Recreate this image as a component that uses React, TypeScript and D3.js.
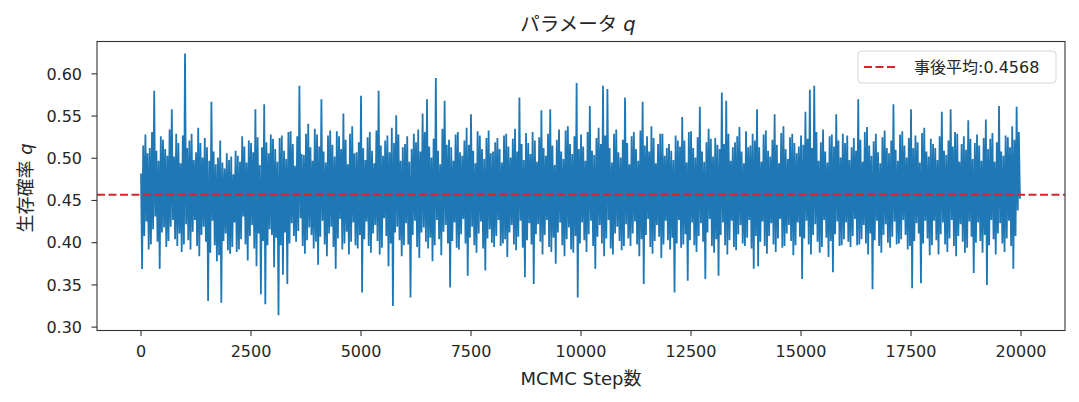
import React, { useMemo } from 'react';
import * as d3 from 'd3';

// thinned MCMC trace of q, one value every `thin` steps
const thin = 25;
const trace: number[] = [
  // 0 - 975
  0.482, 0.369, 0.515, 0.408, 0.528, 0.425, 0.506, 0.392, 0.512, 0.398, 0.531, 0.416, 0.580, 0.431, 0.509, 0.401, 0.497, 0.369, 0.526, 0.412,
  0.522, 0.418, 0.511, 0.395, 0.503, 0.402, 0.534, 0.419, 0.558, 0.427, 0.502, 0.404, 0.529, 0.396, 0.518, 0.411, 0.494, 0.389, 0.527, 0.398,
  // 1000 - 1975
  0.624, 0.422, 0.512, 0.403, 0.521, 0.392, 0.529, 0.413, 0.498, 0.427, 0.507, 0.396, 0.536, 0.384, 0.518, 0.409, 0.501, 0.419, 0.524, 0.401,
  0.513, 0.331, 0.497, 0.388, 0.567, 0.426, 0.508, 0.397, 0.493, 0.378, 0.501, 0.385, 0.521, 0.329, 0.495, 0.402, 0.488, 0.411, 0.506, 0.391,
  // 2000 - 2975
  0.498, 0.387, 0.502, 0.395, 0.481, 0.424, 0.509, 0.389, 0.503, 0.392, 0.496, 0.404, 0.526, 0.431, 0.514, 0.398, 0.495, 0.379, 0.521, 0.408,
  0.518, 0.421, 0.507, 0.393, 0.558, 0.372, 0.525, 0.411, 0.492, 0.339, 0.513, 0.402, 0.564, 0.327, 0.519, 0.397, 0.506, 0.416, 0.528, 0.409,
  // 3000 - 3975
  0.523, 0.371, 0.511, 0.406, 0.496, 0.314, 0.524, 0.397, 0.527, 0.362, 0.509, 0.412, 0.499, 0.351, 0.531, 0.399, 0.532, 0.423, 0.517, 0.408,
  0.491, 0.401, 0.526, 0.414, 0.586, 0.429, 0.505, 0.396, 0.504, 0.387, 0.529, 0.403, 0.541, 0.418, 0.513, 0.409, 0.497, 0.393, 0.535, 0.401,
  // 4000 - 4975
  0.528, 0.374, 0.514, 0.407, 0.570, 0.426, 0.508, 0.398, 0.495, 0.384, 0.527, 0.411, 0.533, 0.419, 0.516, 0.395, 0.502, 0.369, 0.532, 0.405,
  0.526, 0.428, 0.511, 0.392, 0.553, 0.399, 0.522, 0.413, 0.493, 0.386, 0.529, 0.401, 0.538, 0.424, 0.506, 0.397, 0.507, 0.393, 0.519, 0.409,
  // 5000 - 5975
  0.574, 0.341, 0.512, 0.404, 0.498, 0.425, 0.525, 0.396, 0.531, 0.388, 0.509, 0.411, 0.494, 0.421, 0.533, 0.402, 0.580, 0.386, 0.515, 0.394,
  0.503, 0.429, 0.521, 0.408, 0.527, 0.372, 0.507, 0.399, 0.536, 0.325, 0.518, 0.412, 0.551, 0.419, 0.528, 0.403, 0.497, 0.384, 0.513, 0.397,
  // 6000 - 6975
  0.517, 0.423, 0.526, 0.398, 0.496, 0.335, 0.511, 0.409, 0.529, 0.426, 0.519, 0.395, 0.534, 0.382, 0.508, 0.412, 0.553, 0.418, 0.531, 0.401,
  0.570, 0.393, 0.514, 0.406, 0.501, 0.378, 0.523, 0.397, 0.595, 0.427, 0.509, 0.404, 0.493, 0.385, 0.535, 0.413, 0.568, 0.421, 0.516, 0.399,
  // 7000 - 7975
  0.522, 0.347, 0.513, 0.402, 0.497, 0.424, 0.528, 0.394, 0.531, 0.392, 0.507, 0.410, 0.503, 0.428, 0.521, 0.399, 0.536, 0.361, 0.516, 0.406,
  0.552, 0.419, 0.509, 0.397, 0.494, 0.388, 0.532, 0.411, 0.527, 0.425, 0.511, 0.393, 0.499, 0.367, 0.524, 0.405, 0.533, 0.416, 0.506, 0.400,
  // 8000 - 8975
  0.508, 0.395, 0.519, 0.408, 0.524, 0.427, 0.511, 0.396, 0.495, 0.399, 0.527, 0.404, 0.529, 0.383, 0.514, 0.412, 0.501, 0.421, 0.523, 0.398,
  0.535, 0.391, 0.508, 0.407, 0.572, 0.426, 0.517, 0.394, 0.498, 0.359, 0.530, 0.403, 0.518, 0.423, 0.505, 0.398, 0.531, 0.351, 0.521, 0.410,
  // 9000 - 9975
  0.496, 0.422, 0.525, 0.401, 0.557, 0.386, 0.512, 0.409, 0.503, 0.427, 0.529, 0.395, 0.558, 0.389, 0.515, 0.406, 0.492, 0.375, 0.522, 0.412,
  0.534, 0.424, 0.508, 0.397, 0.499, 0.384, 0.533, 0.404, 0.538, 0.418, 0.517, 0.392, 0.505, 0.388, 0.526, 0.408, 0.589, 0.335, 0.511, 0.399,
  // 10000 - 10975
  0.528, 0.424, 0.514, 0.403, 0.497, 0.389, 0.531, 0.410, 0.562, 0.426, 0.509, 0.396, 0.504, 0.369, 0.524, 0.407, 0.536, 0.421, 0.517, 0.399,
  0.586, 0.384, 0.527, 0.405, 0.582, 0.427, 0.512, 0.393, 0.495, 0.386, 0.529, 0.411, 0.534, 0.419, 0.507, 0.402, 0.501, 0.391, 0.522, 0.396,
  // 11000 - 11975
  0.572, 0.422, 0.518, 0.405, 0.493, 0.396, 0.526, 0.411, 0.531, 0.425, 0.511, 0.398, 0.497, 0.384, 0.533, 0.404, 0.567, 0.351, 0.515, 0.409,
  0.526, 0.428, 0.508, 0.395, 0.538, 0.387, 0.524, 0.402, 0.494, 0.421, 0.517, 0.407, 0.529, 0.382, 0.529, 0.398, 0.503, 0.426, 0.512, 0.403,
  // 12000 - 12975
  0.517, 0.392, 0.509, 0.406, 0.498, 0.341, 0.527, 0.399, 0.521, 0.427, 0.514, 0.394, 0.549, 0.398, 0.521, 0.410, 0.495, 0.355, 0.531, 0.403,
  0.532, 0.424, 0.512, 0.397, 0.501, 0.389, 0.525, 0.408, 0.561, 0.423, 0.508, 0.401, 0.496, 0.357, 0.519, 0.412, 0.535, 0.428, 0.523, 0.396,
  // 13000 - 13975
  0.502, 0.388, 0.524, 0.404, 0.516, 0.361, 0.511, 0.409, 0.578, 0.424, 0.517, 0.397, 0.568, 0.386, 0.529, 0.403, 0.497, 0.426, 0.513, 0.395,
  0.519, 0.391, 0.526, 0.410, 0.537, 0.421, 0.508, 0.399, 0.494, 0.396, 0.532, 0.406, 0.513, 0.427, 0.515, 0.393, 0.529, 0.369, 0.521, 0.408,
  // 14000 - 14975
  0.558, 0.372, 0.513, 0.401, 0.496, 0.425, 0.528, 0.396, 0.533, 0.387, 0.509, 0.408, 0.502, 0.423, 0.522, 0.398, 0.552, 0.389, 0.516, 0.405,
  0.494, 0.428, 0.530, 0.394, 0.538, 0.396, 0.511, 0.411, 0.499, 0.421, 0.525, 0.402, 0.529, 0.385, 0.518, 0.397, 0.506, 0.424, 0.514, 0.407,
  // 15000 - 15975
  0.527, 0.357, 0.516, 0.405, 0.555, 0.426, 0.523, 0.398, 0.581, 0.386, 0.512, 0.409, 0.586, 0.422, 0.531, 0.401, 0.497, 0.388, 0.519, 0.395,
  0.534, 0.427, 0.508, 0.406, 0.495, 0.383, 0.526, 0.402, 0.528, 0.365, 0.514, 0.410, 0.552, 0.425, 0.521, 0.396, 0.501, 0.397, 0.529, 0.404,
  // 16000 - 16975
  0.518, 0.424, 0.527, 0.401, 0.498, 0.395, 0.513, 0.408, 0.524, 0.428, 0.509, 0.397, 0.570, 0.398, 0.522, 0.404, 0.496, 0.421, 0.531, 0.399,
  0.537, 0.386, 0.515, 0.411, 0.503, 0.345, 0.520, 0.403, 0.529, 0.426, 0.507, 0.396, 0.494, 0.388, 0.525, 0.409, 0.533, 0.422, 0.512, 0.400,
  // 17000 - 17975
  0.506, 0.394, 0.521, 0.407, 0.564, 0.425, 0.510, 0.398, 0.497, 0.399, 0.528, 0.404, 0.532, 0.427, 0.515, 0.409, 0.501, 0.392, 0.524, 0.396,
  0.558, 0.346, 0.512, 0.402, 0.527, 0.423, 0.519, 0.411, 0.495, 0.352, 0.530, 0.399, 0.536, 0.426, 0.508, 0.405, 0.502, 0.385, 0.523, 0.397,
  // 18000 - 18975
  0.517, 0.426, 0.512, 0.403, 0.498, 0.386, 0.526, 0.410, 0.555, 0.424, 0.509, 0.398, 0.504, 0.389, 0.521, 0.405, 0.558, 0.427, 0.514, 0.396,
  0.531, 0.384, 0.529, 0.408, 0.496, 0.422, 0.517, 0.401, 0.526, 0.388, 0.510, 0.394, 0.545, 0.425, 0.523, 0.407, 0.499, 0.364, 0.518, 0.400,
  // 19000 - 19975
  0.528, 0.424, 0.515, 0.402, 0.497, 0.388, 0.524, 0.409, 0.546, 0.350, 0.511, 0.397, 0.523, 0.427, 0.530, 0.404, 0.496, 0.386, 0.519, 0.411,
  0.562, 0.423, 0.508, 0.399, 0.503, 0.389, 0.527, 0.405, 0.525, 0.426, 0.513, 0.396, 0.538, 0.369, 0.522, 0.408, 0.561, 0.438, 0.531, 0.452,
];

const posteriorMean = 0.4568;
const xTicks = [0, 2500, 5000, 7500, 10000, 12500, 15000, 17500, 20000];
const yTicks = [0.3, 0.35, 0.4, 0.45, 0.5, 0.55, 0.6];

const W = 1079;
const H = 402;
const plot = { left: 97, right: 1065, top: 41.5, bottom: 330.5 };
const FONT = "'DejaVu Sans', 'Noto Sans CJK JP', sans-serif";
const MATH = "'DejaVu Sans', sans-serif";
const INK = '#262626';

const App: React.FC = () => {
  const { x, y, path } = useMemo(() => {
    const x = d3.scaleLinear().domain([-1000, 20999]).range([plot.left, plot.right]);
    const y = d3.scaleLinear().domain([0.296, 0.6383]).range([plot.bottom, plot.top]);
    const line = d3
      .line<number>()
      .x((_, i) => x(i * thin))
      .y((d) => y(d));
    return { x, y, path: line(trace) || '' };
  }, []);

  const meanY = y(posteriorMean);

  return (
    <svg
      width={W}
      height={H}
      viewBox={`0 0 ${W} ${H}`}
      style={{ position: 'absolute', left: 0, top: 0, background: '#fff' }}
      fontFamily={FONT}
    >
      <defs>
        <clipPath id="plotClip">
          <rect x={plot.left} y={plot.top} width={plot.right - plot.left} height={plot.bottom - plot.top} />
        </clipPath>
      </defs>

      {/* trace */}
      <g clipPath="url(#plotClip)">
        <path d={path} fill="none" stroke="#1f77b4" strokeWidth={1.8} strokeLinejoin="bevel" />
        <line
          x1={plot.left}
          x2={plot.right}
          y1={meanY}
          y2={meanY}
          stroke="#d62728"
          strokeWidth={2}
          strokeDasharray="8,3.5"
        />
      </g>

      {/* frame */}
      <rect
        x={plot.left}
        y={plot.top}
        width={plot.right - plot.left}
        height={plot.bottom - plot.top}
        fill="none"
        stroke="#333"
        strokeWidth={1.1}
      />

      {/* x axis */}
      {xTicks.map((t) => (
        <g key={t} transform={`translate(${x(t)},${plot.bottom})`}>
          <line y2={5.5} stroke="#333" strokeWidth={1.1} />
          <text y={26.5} textAnchor="middle" fontSize={16} fill={INK}>
            {t}
          </text>
        </g>
      ))}

      {/* y axis */}
      {yTicks.map((t) => (
        <g key={t} transform={`translate(${plot.left},${y(t)})`}>
          <line x2={-5.5} stroke="#333" strokeWidth={1.1} />
          <text x={-15} dy="0.36em" textAnchor="end" fontSize={16} fill={INK}>
            {t.toFixed(2)}
          </text>
        </g>
      ))}

      {/* labels */}
      <text x={581} y={385} textAnchor="middle" fontSize={18} fill={INK}>
        MCMC Step数
      </text>
      <text transform={`translate(32,188) rotate(-90)`} textAnchor="middle" fontSize={18} fill={INK}>
        生存確率{' '}
        <tspan fontFamily={MATH} fontStyle="italic">
          q
        </tspan>
      </text>
      <text x={578} y={31} textAnchor="middle" fontSize={19.5} fill={INK}>
        パラメータ{' '}
        <tspan fontFamily={MATH} fontStyle="italic">
          q
        </tspan>
      </text>

      {/* legend */}
      <g transform="translate(858,51)">
        <rect width={198} height={32} rx={3.5} fill="#fff" fillOpacity={0.8} stroke="#d6d6d6" />
        <line x1={6} x2={40} y1={16} y2={16} stroke="#d62728" strokeWidth={2} strokeDasharray="8,3.5" />
        <text x={56} y={16} dy="0.36em" fontSize={16} fill={INK}>
          事後平均:{posteriorMean}
        </text>
      </g>
    </svg>
  );
};

export default App;
